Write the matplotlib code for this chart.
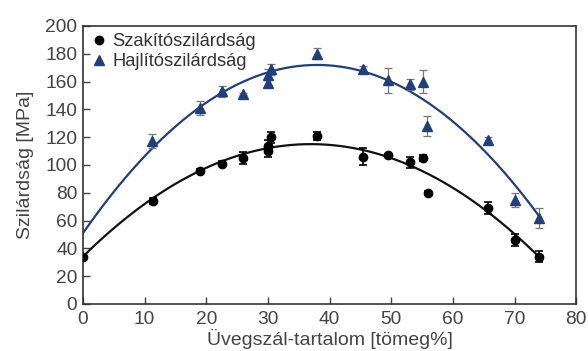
import matplotlib
matplotlib.use("Agg")
import matplotlib.pyplot as plt
from matplotlib.lines import Line2D
import numpy as np

plt.rcParams['font.family'] = ['Liberation Sans', 'DejaVu Sans']

# Tensile strength (Szakítószilárdság)
t_x = [0, 11.3, 19, 22.5, 26, 30, 30, 30.5, 38, 45.5, 49.5, 53, 55.2, 56, 65.7, 70, 74]
t_y = [34, 74, 96, 101, 105, 110, 114, 120, 121, 106, 107, 102, 105, 80, 69, 46, 34]
t_err = [0, 2, 1, 2, 4, 4, 4, 4, 3, 6, 1, 4, 2, 1, 4, 4, 4]

# Flexural strength (Hajlítószilárdság)
f_x = [11.2, 19, 22.5, 26, 30, 30, 30.5, 38, 45.5, 49.5, 53, 55.2, 55.8, 65.7, 70, 74]
f_y = [117, 141, 153, 151, 159, 165, 169, 180, 169, 161, 158, 160, 128, 118, 75, 62]
f_err = [5, 5, 4, 1, 2, 4, 4, 4, 2, 9, 4, 8, 7, 2, 5, 7]

# Fitted curves
fit_x = [0, 10, 20, 30, 40, 50, 60, 70, 74]
t_fit_y = [34, 72, 98, 112, 114.5, 105, 83.5, 50, 34]
f_fit_y = [51, 106, 145, 166.5, 171.7, 160, 131, 86, 63]

blue = '#213f78'
txt = '#444444'

fig = plt.figure(figsize=(5.88, 3.51), dpi=100)
ax = fig.add_axes([0.141, 0.134, 0.839, 0.792])

xs = np.linspace(0, 74, 200)
ax.plot(xs, np.polyval(np.polyfit(fit_x, t_fit_y, 2), xs), color='#111111', lw=1.6, zorder=2)
ax.plot(xs, np.polyval(np.polyfit(fit_x, f_fit_y, 2), xs), color=blue, lw=1.6, zorder=2)

ax.errorbar(t_x, t_y, yerr=t_err, fmt='o', color='black', ms=6, ecolor='black',
            elinewidth=1.2, capsize=3, capthick=1.2, zorder=4)
ax.errorbar(f_x, f_y, yerr=f_err, fmt='^', color=blue, ms=6.5, ecolor='#777777',
            elinewidth=0.9, capsize=3, capthick=0.9, zorder=4)

ax.set_xlim(0, 80)
ax.set_ylim(0, 200)
ax.set_xticks(range(0, 81, 10))
ax.set_yticks(range(0, 201, 20))
ax.tick_params(direction='in', length=5, width=1, colors=txt, labelsize=13.8,
               top=False, right=False)
ax.tick_params(axis='x', pad=5)
ax.tick_params(axis='y', pad=4)
for s in ax.spines.values():
    s.set_color('#333333')
    s.set_linewidth(1.2)

ax.set_xlabel('Üvegszál-tartalom [tömeg%]', fontsize=14, color=txt, labelpad=1)
ax.set_ylabel('Szilárdság [MPa]', fontsize=14, color=txt, labelpad=8)

handles = [Line2D([], [], ls='none', marker='o', color='black', ms=6),
           Line2D([], [], ls='none', marker='^', color=blue, ms=6.5)]
leg = ax.legend(handles, ['Szakítószilárdság', 'Hajlítószilárdság'],
                loc='upper left', frameon=False, fontsize=13.2, handletextpad=0.2,
                handlelength=1.0, borderaxespad=0.0, labelspacing=0.15,
                bbox_to_anchor=(0.0, 1.0))
for t in leg.get_texts():
    t.set_color('#333333')

fig.savefig('out.png', dpi=100)
